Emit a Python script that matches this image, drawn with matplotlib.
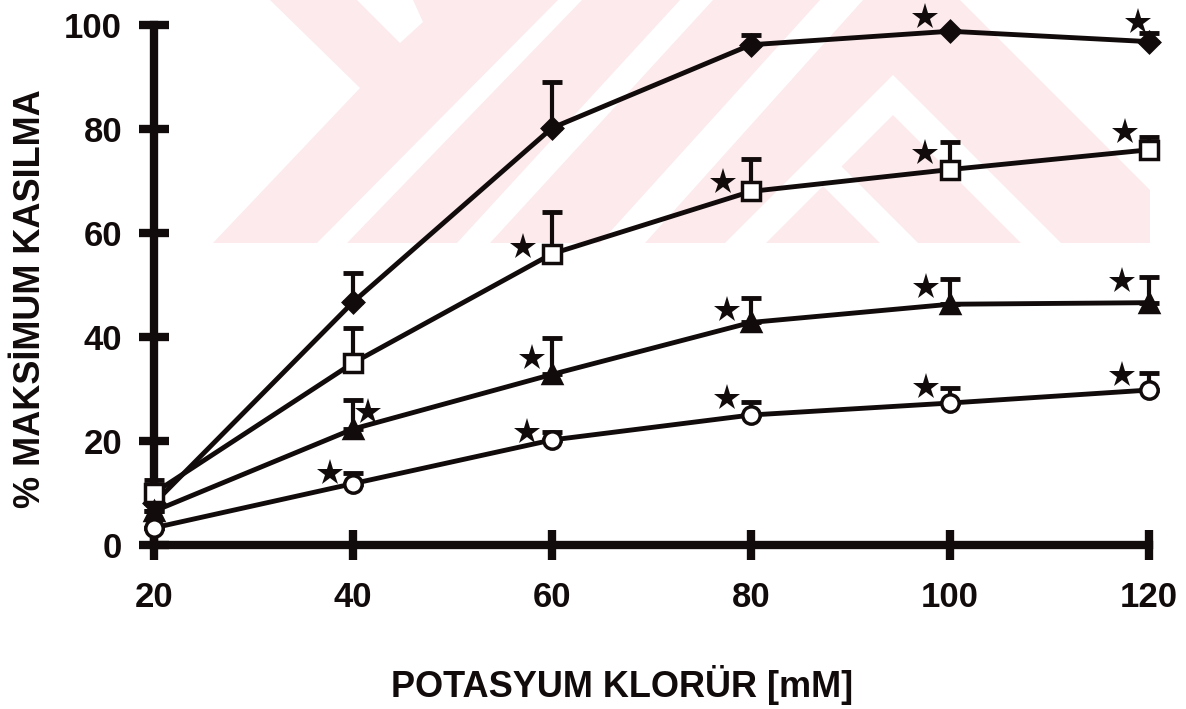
import numpy as np
import matplotlib
matplotlib.use("Agg")
from matplotlib import pyplot as plt
from matplotlib.patches import Polygon

W, H = 1186, 709

# KCl concentrations (mM)
kcl = [20, 40, 60, 80, 100, 120]

# % maximum contraction, mean and upper error
diamond_y = [8.0, 46.7, 80.2, 96.2, 98.8, 96.8]
diamond_err = [0.0, 5.6, 8.8, 1.8, 0.0, 1.6]
square_y = [10.0, 35.0, 56.0, 68.0, 72.2, 76.0]
square_err = [2.5, 6.7, 8.0, 6.3, 5.3, 2.5]
triangle_y = [6.5, 22.3, 32.8, 42.8, 46.3, 46.6]
triangle_err = [0.0, 5.6, 7.0, 4.7, 4.8, 5.0]
circle_y = [3.3, 11.8, 20.2, 25.0, 27.3, 29.8]
circle_err = [0.0, 2.0, 1.5, 2.5, 2.9, 3.2]

# significance stars
star_diamond_x = [97.5, 118.9]
star_diamond_y = [101.5, 100.6]
star_square_x = [57.1, 77.2, 97.5, 117.6]
star_square_y = [57.3, 69.8, 75.4, 79.4]
star_triangle_x = [41.5, 58.0, 77.6, 97.6, 117.3]
star_triangle_y = [25.6, 36.0, 45.2, 49.6, 50.8]
star_circle_x = [37.7, 57.5, 77.6, 97.6, 117.3]
star_circle_y = [13.8, 21.7, 28.3, 30.4, 32.7]

x_ticks = [20, 40, 60, 80, 100, 120]
y_ticks = [0, 20, 40, 60, 80, 100]

INK = "#120b0b"
PINK = "#fceaed"

plt.rcParams["font.family"] = ["Liberation Sans", "DejaVu Sans"]
plt.rcParams["font.weight"] = "bold"

fig = plt.figure(figsize=(W / 100, H / 100), dpi=100)


def px(pts):
    return [(x / W, 1 - y / H) for x, y in pts]


# faint scanned watermark in the background
wm_pink = [[(270, 0), (960, 0), (1150, 190), (1150, 243), (213, 243), (360, 88)]]
wm_white = [
    [(357, 0), (413, 0), (423, 22), (400, 43)],
    [(317, 243), (347, 243), (582, 0), (558, 0)],
    [(457, 243), (490, 243), (713, 0), (680, 0)],
    [(600, 243), (645, 243), (863, 0), (820, 0)],
    [(725, 243), (893, 75), (1061, 243), (1021, 243), (893, 115), (765, 243)],
    [(728, 243), (823, 148), (918, 243), (880, 243), (823, 186), (766, 243)],
]
for p in wm_pink:
    fig.add_artist(Polygon(px(p), closed=True, transform=fig.transFigure,
                           facecolor=PINK, edgecolor="none", zorder=-2))
for p in wm_white:
    fig.add_artist(Polygon(px(p), closed=True, transform=fig.transFigure,
                           facecolor="white", edgecolor="none", zorder=-1))

ax = fig.add_axes([154 / W, 1 - 545 / H, (1149 - 154) / W, (545 - 25) / H])
ax.patch.set_alpha(0)

series = [
    (diamond_y, diamond_err, "D", INK, 10.5),
    (square_y, square_err, "s", "white", 13),
    (triangle_y, triangle_err, "^", INK, 13),
    (circle_y, circle_err, "o", "white", 12.5),
]
for yv, err, mk, fc, ms in series:
    lower = np.zeros(len(err))
    ax.errorbar(kcl, yv, yerr=[lower, err], fmt="none", ecolor=INK,
                elinewidth=3, capsize=7, capthick=3.5, clip_on=False, zorder=3)
    ax.plot(kcl, yv, color=INK, lw=3.5, marker=mk, markersize=ms,
            markerfacecolor=fc, markeredgecolor=INK, markeredgewidth=2.5,
            clip_on=False, zorder=4)

for sx, sy in [(star_diamond_x, star_diamond_y), (star_square_x, star_square_y),
               (star_triangle_x, star_triangle_y), (star_circle_x, star_circle_y)]:
    ax.plot(sx, sy, linestyle="none", marker="*", markersize=20, color=INK,
            markeredgewidth=0, clip_on=False, zorder=5)

ax.set_xlim(20, 120)
ax.set_ylim(0, 100)
ax.set_xticks(x_ticks)
ax.set_yticks(y_ticks)
ax.tick_params(axis="both", direction="inout", length=22, width=6, color=INK,
               labelsize=25, labelcolor=INK)
ax.tick_params(axis="x", pad=15)
ax.tick_params(axis="y", pad=12)
for lab in ax.get_xticklabels() + ax.get_yticklabels():
    lab.set_fontweight("bold")

for side in ["top", "right"]:
    ax.spines[side].set_visible(False)
for side in ["left", "bottom"]:
    ax.spines[side].set_linewidth(6)
    ax.spines[side].set_color(INK)
    ax.spines[side].set_capstyle("projecting")

fig.text(622 / W, 1 - 685 / H, "POTASYUM KLORÜR [mM]", ha="center", va="center",
         fontsize=26, fontweight="bold", color=INK)
fig.text(31 / W, 1 - 299 / H, "% MAKSİMUM KASILMA", ha="center", va="center",
         rotation=90, fontsize=26, fontweight="bold", color=INK)

fig.savefig("out.png", dpi=100)
